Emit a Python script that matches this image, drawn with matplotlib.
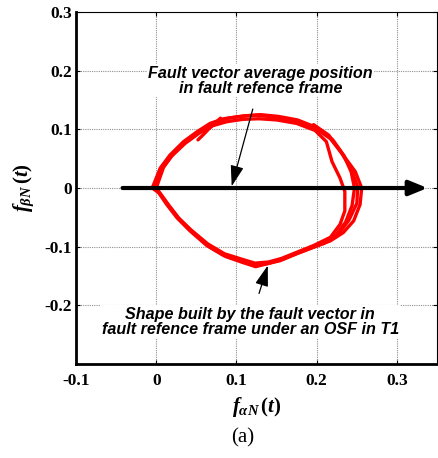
import numpy as np
import matplotlib.pyplot as plt

plt.rcParams['mathtext.fontset'] = 'custom'
plt.rcParams['mathtext.rm'] = 'Liberation Serif:bold'
plt.rcParams['mathtext.it'] = 'Liberation Serif:bold:italic'
plt.rcParams['mathtext.bf'] = 'Liberation Serif:bold'

# fault vector trajectory, several passes
loop1_x = [-0.005, 0.005, 0.017, 0.034, 0.051, 0.067, 0.084, 0.105, 0.125, 0.146, 0.171,
           0.196, 0.217, 0.233, 0.248, 0.256, 0.254, 0.246, 0.233, 0.217, 0.196, 0.175,
           0.154, 0.138, 0.121, 0.105, 0.084, 0.063, 0.042, 0.026, 0.013, 0.003, -0.005]
loop1_y = [0.0, 0.034, 0.056, 0.079, 0.096, 0.110, 0.118, 0.122, 0.124, 0.121, 0.115,
           0.104, 0.084, 0.056, 0.028, 0.0, -0.028, -0.056, -0.076, -0.090, -0.101, -0.112,
           -0.124, -0.129, -0.132, -0.124, -0.115, -0.098, -0.073, -0.051, -0.028, -0.008, 0.0]
loop2_x = [-0.002, 0.007, 0.019, 0.036, 0.053, 0.070, 0.088, 0.108, 0.128, 0.150, 0.175,
           0.198, 0.212, 0.219, 0.229, 0.235, 0.235, 0.229, 0.217, 0.196, 0.176, 0.156,
           0.140, 0.123, 0.106, 0.085, 0.064, 0.043, 0.027, 0.014, 0.003, -0.002]
loop2_y = [0.0, 0.033, 0.054, 0.076, 0.093, 0.106, 0.113, 0.117, 0.118, 0.116, 0.110,
           0.098, 0.079, 0.045, 0.017, -0.006, -0.039, -0.062, -0.084, -0.098, -0.109,
           -0.120, -0.126, -0.128, -0.121, -0.112, -0.095, -0.071, -0.050, -0.027, -0.007, 0.0]
loop3_x = [0.0, 0.009, 0.021, 0.038, 0.055, 0.071, 0.090, 0.110, 0.130, 0.152, 0.176,
           0.200, 0.220, 0.234, 0.243, 0.247, 0.244, 0.236, 0.224, 0.205, 0.180, 0.158,
           0.141, 0.124, 0.108, 0.087, 0.066, 0.045, 0.029, 0.016, 0.005, 0.0]
loop3_y = [0.0, 0.035, 0.058, 0.081, 0.098, 0.111, 0.119, 0.123, 0.125, 0.122, 0.116,
           0.103, 0.082, 0.055, 0.027, 0.0, -0.030, -0.058, -0.080, -0.096, -0.109, -0.121,
           -0.128, -0.134, -0.127, -0.117, -0.100, -0.075, -0.053, -0.030, -0.009, 0.0]
loop4_x = [0.196, 0.215, 0.230, 0.243, 0.251, 0.250, 0.240, 0.226, 0.208]
loop4_y = [0.108, 0.090, 0.062, 0.032, 0.002, -0.026, -0.055, -0.080, -0.095]
hook_x = [0.052, 0.058, 0.065, 0.080]
hook_y = [0.082, 0.090, 0.100, 0.119]

xticks = [-0.1, 0, 0.1, 0.2, 0.3]
xticklabels = ['-0.1', '0', '0.1', '0.2', '0.3']
yticks = [-0.2, -0.1, 0, 0.1, 0.2, 0.3]
yticklabels = ['-0.2', '-0.1', '0', '0.1', '0.2', '0.3']

fig = plt.figure(figsize=(4.38, 4.58), dpi=100)
ax = fig.add_axes([0.1735, 0.205, 0.8245, 0.769])

ax.set_xlim(-0.1, 0.35)
ax.set_ylim(-0.3, 0.3)
ax.grid(True, color='#909090', linestyle=(0, (1, 1)), linewidth=0.8)
ax.set_axisbelow(True)

loops = [(loop1_x, loop1_y), (loop2_x, loop2_y), (loop3_x, loop3_y),
         (loop4_x, loop4_y), (hook_x, hook_y)]
for lx, ly in loops:
    ax.plot(lx, ly, color='#ff0000', linewidth=2.4, solid_joinstyle='round',
            solid_capstyle='round', zorder=3)

# average position arrow along alpha axis
ax.annotate('', xy=(0.338, 0), xytext=(-0.042, 0),
            arrowprops=dict(arrowstyle='-|>,head_length=1.1,head_width=0.45',
                            color='black', lw=3, shrinkA=0, shrinkB=0), zorder=4)

ann_font = dict(family='Liberation Sans', weight='bold', style='italic', fontsize=11.6)
arrow_style = dict(arrowstyle='-|>,head_length=1.1,head_width=0.35',
                   color='black', lw=0.9, shrinkA=9, shrinkB=0)
ax.annotate('Fault vector average position\nin fault refence frame',
            xy=(0.094, 0.003), xytext=(0.13, 0.183), ha='center', va='center',
            linespacing=1.0,
            bbox=dict(facecolor='white', edgecolor='none', pad=1),
            arrowprops=arrow_style, zorder=5, **ann_font)
ax.annotate('Shape built by the fault vector in\nfault refence frame under an OSF in T1',
            xy=(0.139, -0.132), xytext=(0.117, -0.228), ha='center', va='center',
            linespacing=1.0,
            bbox=dict(facecolor='white', edgecolor='none', pad=1),
            arrowprops=arrow_style, zorder=5, **ann_font)

ax.set_xticks(xticks)
ax.set_xticklabels(xticklabels)
ax.set_yticks(yticks)
ax.set_yticklabels(yticklabels)
ax.tick_params(direction='in', length=3, width=0.8, top=True, right=True)
ax.tick_params(axis='x', pad=6.5)
ax.tick_params(axis='y', pad=3)
for lab in ax.get_xticklabels() + ax.get_yticklabels():
    lab.set_family('Liberation Serif')
    lab.set_weight('bold')
    lab.set_fontsize(12.5)

for side in ['left', 'bottom']:
    ax.spines[side].set_linewidth(2)
for side in ['top', 'right']:
    ax.spines[side].set_linewidth(0.8)

ax.set_xlabel(r'$f_{\alpha N}\,(t)$', fontsize=15, labelpad=4)
ax.set_ylabel(r'$f_{\beta N}\,(t)$', fontsize=15, labelpad=6)

fig.text(0.555, 0.043, '(a)', family='Liberation Serif', fontsize=15, ha='center', va='center')

fig.savefig('out.png', dpi=100)
